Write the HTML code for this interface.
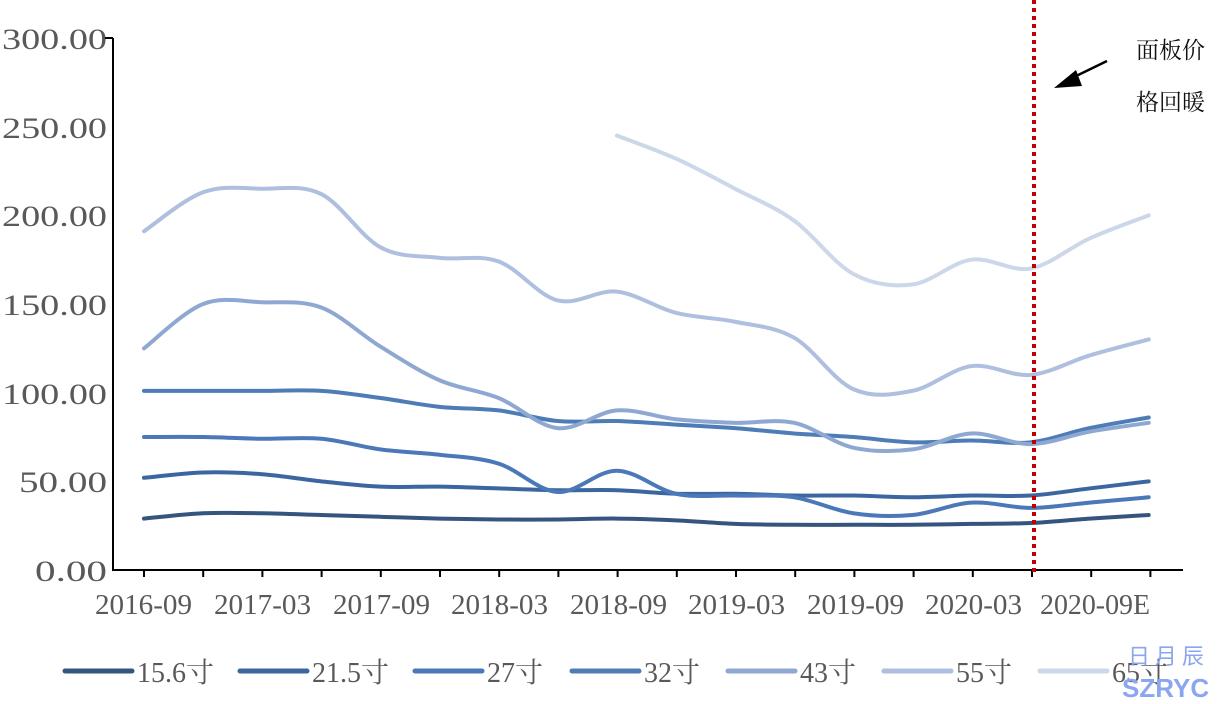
<!DOCTYPE html>
<html><head><meta charset="utf-8"><style>
body{margin:0;background:#fff;}
svg text{font-family:"Liberation Serif","Noto Serif CJK SC",serif;fill:#595959;}
</style></head><body>
<svg id="s" width="1227" height="699" xmlns="http://www.w3.org/2000/svg">
<g font-size="30" text-anchor="end">
<text x="107" y="49" textLength="105" lengthAdjust="spacingAndGlyphs">300.00</text>
<text x="107" y="138" textLength="105" lengthAdjust="spacingAndGlyphs">250.00</text>
<text x="107" y="226" textLength="105" lengthAdjust="spacingAndGlyphs">200.00</text>
<text x="107" y="315" textLength="105" lengthAdjust="spacingAndGlyphs">150.00</text>
<text x="107" y="404" textLength="105" lengthAdjust="spacingAndGlyphs">100.00</text>
<text x="107" y="492" textLength="88" lengthAdjust="spacingAndGlyphs">50.00</text>
<text x="107" y="581" textLength="72" lengthAdjust="spacingAndGlyphs">0.00</text>
</g>
<line x1="113" y1="38" x2="113" y2="571" stroke="#000" stroke-width="2"/>
<line x1="105" y1="38" x2="113" y2="38" stroke="#000" stroke-width="2"/>
<line x1="113" y1="570" x2="1183" y2="570" stroke="#000" stroke-width="2"/>
<g id="ticks" stroke="#000" stroke-width="2"></g>
<g font-size="28" id="xl"></g>
<g id="lines" fill="none" stroke-width="4" stroke-linecap="round"></g>
<line x1="1034" y1="0" x2="1034" y2="575" stroke="#c00000" stroke-width="4" stroke-dasharray="4,4"/>
<line x1="1107" y1="61" x2="1072" y2="78" stroke="#000" stroke-width="2.5"/>
<polygon points="1054,88 1076,70 1082,86" fill="#000"/>
<g font-size="23" style="font-family:'Noto Serif CJK SC',serif">
<text x="1136" y="58" style="fill:#111">面板价</text><text x="1136" y="110" style="fill:#111">格回暖</text>
</g>
<g id="leg" font-size="28"></g>
<text x="1128" y="664" font-size="22" style="fill:#8aa6f0;font-family:'Noto Sans CJK SC',sans-serif">日 月 辰</text>
<text x="1122" y="697" font-size="26" font-weight="bold" style="fill:#8aa6f0;font-family:'Liberation Sans',sans-serif">SZRYC</text>
</svg>
<script>
var ns="http://www.w3.org/2000/svg";
var t=document.getElementById('ticks');
for(var i=0;i<19;i++){var x=144+59.2*i;if(x>1185)break;var l=document.createElementNS(ns,'line');l.setAttribute('x1',x);l.setAttribute('x2',x);l.setAttribute('y1',570);l.setAttribute('y2',577);t.appendChild(l);}
var xl=[["2016-09",95],["2017-03",214],["2017-09",333],["2018-03",451],["2018-09",570],["2019-03",688],["2019-09",807],["2020-03",925],["2020-09E",1040]];
var xg=document.getElementById('xl');
xl.forEach(function(a){var e=document.createElementNS(ns,'text');e.setAttribute('x',a[1]);e.setAttribute('y',614);e.setAttribute('textLength',a[0].length==8?110:97);e.setAttribute('lengthAdjust','spacingAndGlyphs');e.textContent=a[0];xg.appendChild(e);});
var S=[
["#35557f","15.6寸",0,[29,32,32,31,30,29,28.5,28.5,29,28,26,25.5,25.5,25.5,26,26.5,29,31]],
["#3c66a0","21.5寸",0,[52,55,54,50,47,47,46,45,45,43,43,42,42,41,42,42,46,50]],
["#4a78b8","27寸",0,[75,75,74,74,68,65,60,44,56,43,42,41,32,31,38,35,38,41]],
["#4d7cb6","32寸",0,[101,101,101,101,97,92,90,84,84,82,80,77,75,72,73,72,80,86]],
["#8fa8d2","43寸",0,[125,150,151,148,126,107,97,80,90,85,83,83,69,68,77,71,78,83]],
["#aebfdf","55寸",0,[191,213,215,212,182,176,174,152,157,145,140,131,102,101,115,110,121,130]],
["#cdd7ea","65寸",8,[245,232,215,197,167,161,175,170,187,200]]];
var g=document.getElementById('lines');
S.forEach(function(s){
 var p=s[3].map(function(v,k){return [144+59.1*(k+s[2]),570-v*1.7733];});
 var d="M"+p[0][0]+","+p[0][1];
 for(var i=0;i<p.length-1;i++){var p0=p[i-1]||p[i],p1=p[i],p2=p[i+1],p3=p[i+2]||p2;
  d+=" C"+(p1[0]+(p2[0]-p0[0])/6)+","+(p1[1]+(p2[1]-p0[1])/6)+" "+(p2[0]-(p3[0]-p1[0])/6)+","+(p2[1]-(p3[1]-p1[1])/6)+" "+p2[0]+","+p2[1];}
 var e=document.createElementNS(ns,'path');e.setAttribute('d',d);e.setAttribute('stroke',s[0]);g.appendChild(e);
});
var lx=[65,240,415,572,728,884,1040];
var lg=document.getElementById('leg');
S.forEach(function(s,i){var l=document.createElementNS(ns,'line');l.setAttribute('x1',lx[i]);l.setAttribute('x2',lx[i]+67);l.setAttribute('y1',671);l.setAttribute('y2',671);l.setAttribute('stroke',s[0]);l.setAttribute('stroke-width',5);l.setAttribute('stroke-linecap','round');lg.appendChild(l);
var tx=document.createElementNS(ns,'text');tx.setAttribute('x',lx[i]+72);tx.setAttribute('y',682);tx.textContent=s[1];lg.appendChild(tx);});
</script>
</body></html>
